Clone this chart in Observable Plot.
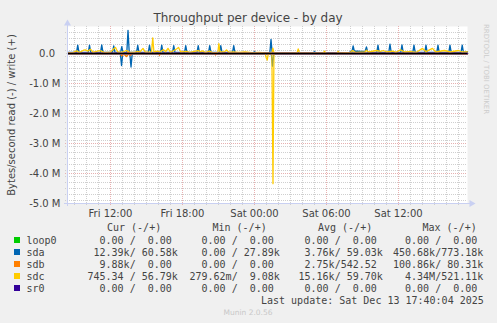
<!DOCTYPE html>
<html><head><meta charset="utf-8">
<script src="https://cdn.jsdelivr.net/npm/d3@7"></script>
<script src="https://cdn.jsdelivr.net/npm/@observablehq/plot@0.6"></script>
<style>
html,body{margin:0;padding:0;background:#F0F0F0;}
#chart{width:497px;height:323px;overflow:hidden;}
</style></head><body><div id="chart"></div>
<script>
// time in hours since Fri 12 Dec 2025 00:00, values in bytes/second
const titleText = "Throughput per device - by day";
const yLabelText = "Bytes/second read (-) / write (+)";
const yTicks = [0, -1e6, -2e6, -3e6, -4e6, -5e6];
const yTickLabels = ["0.0", "-1.0 M", "-2.0 M", "-3.0 M", "-4.0 M", "-5.0 M"];
const xTicks = [12, 18, 24, 30, 36];
const xTickLabels = ["Fri 12:00", "Fri 18:00", "Sat 00:00", "Sat 06:00", "Sat 12:00"];

const devices = ["loop0", "sda", "sdb", "sdc", "sr0"];
const colors = ["#00CC00", "#0066B3", "#FF8000", "#FFCC00", "#330099"];
const legendHeaders = ["Cur (-/+)", "Min (-/+)", "Avg (-/+)", "Max (-/+)"];
const curText = ["  0.00 /  0.00 ", " 12.39k/ 60.58k", "  9.88k/  0.00 ", "745.34 / 56.79k", "  0.00 /  0.00 "];
const minText = ["  0.00 /  0.00 ", "  0.00 / 27.89k", "  0.00 /  0.00 ", "279.62m/  9.08k", "  0.00 /  0.00 "];
const avgText = ["  0.00 /  0.00 ", "  3.76k/ 59.03k", "  2.75k/542.52 ", " 15.16k/ 59.70k", "  0.00 /  0.00 "];
const maxText = ["  0.00 /  0.00 ", "450.68k/773.18k", "100.86k/ 80.31k", "  4.34M/521.11k", "  0.00 /  0.00 "];
const lastUpdate = "Last update: Sat Dec 13 17:40:04 2025";
const muninText = "Munin 2.0.56";
const rrdText = "RRDTOOL / TOBI OETIKER";

const loop0Read = [[8.42, 0], [41.75, 0]];
const loop0Write = [[8.42, 0], [41.75, 0]];
const sr0Read = [[8.42, 0], [41.75, 0]];
const sr0Write = [[8.42, 0], [41.75, 0]];

const sdaWrite = [
  [8.42, 38e3], [9.17, 38e3], [9.27, 280e3], [9.37, 38e3], [10.15, 38e3], [10.25, 280e3], [10.35, 38e3],
  [11.17, 38e3], [11.27, 285e3], [11.37, 38e3], [12.17, 38e3], [12.27, 255e3], [12.37, 38e3],
  [12.84, 38e3], [12.94, 225e3], [13.04, 38e3], [13.36, 38e3], [13.46, 773e3], [13.56, 38e3],
  [14.17, 38e3], [14.27, 275e3], [14.37, 38e3], [15.15, 38e3], [15.25, 280e3], [15.35, 38e3],
  [16.17, 38e3], [16.27, 280e3], [16.37, 38e3], [17.17, 38e3], [17.27, 265e3], [17.37, 38e3],
  [18.17, 38e3], [18.27, 265e3], [18.37, 38e3], [19.21, 38e3], [19.31, 265e3], [19.41, 38e3],
  [20.17, 38e3], [20.27, 265e3], [20.37, 38e3], [21.09, 38e3], [21.19, 265e3], [21.29, 38e3],
  [22.17, 38e3], [22.27, 260e3], [22.37, 38e3], [23.9, 30e3], [24.0, 60e3], [24.1, 30e3],
  [25.28, 30e3], [25.375, 470e3], [25.47, 30e3], [28.9, 30e3], [29.0, 60e3], [29.1, 30e3],
  [31.9, 30e3], [32.05, 70e3], [32.12, 60e3], [32.22, 250e3], [32.32, 75e3], [32.6, 80e3], [32.9, 70e3], [33.2, 60e3],
  [33.33, 220e3], [33.43, 45e3], [34.19, 40e3], [34.29, 280e3], [34.39, 40e3], [35.19, 40e3], [35.29, 310e3], [35.39, 40e3],
  [36.19, 40e3], [36.29, 285e3], [36.39, 40e3], [37.19, 40e3], [37.29, 280e3], [37.39, 40e3],
  [38.19, 40e3], [38.29, 280e3], [38.39, 40e3], [39.19, 40e3], [39.29, 280e3], [39.39, 40e3],
  [40.19, 40e3], [40.29, 280e3], [40.39, 40e3], [41.21, 40e3], [41.31, 280e3], [41.41, 40e3], [41.75, 60e3]
];
const sdaRead = [
  [8.42, -3e3], [12.82, -3e3], [12.92, -400e3], [13.02, -3e3], [13.61, -3e3], [13.71, -450e3], [13.81, -3e3],
  [25.4, -3e3], [25.5, -420e3], [25.6, -3e3], [41.75, -12e3]
];
const sdbWrite = [[8.42, 0], [13.38, 0], [13.46, 80e3], [13.54, 0], [41.75, 0]];
const sdbRead = [
  [8.42, 0], [12.82, 0], [12.92, -80e3], [13.1, -20e3], [13.33, -100e3], [13.5, -20e3], [13.67, -60e3], [13.8, 0],
  [16.0, 0], [16.08, -60e3], [16.16, 0], [20.67, 0], [20.75, -50e3], [20.83, 0],
  [29.0, 0], [29.08, -30e3], [29.16, 0], [30.09, 0], [30.17, -30e3], [30.25, 0],
  [35.48, 0], [35.56, -30e3], [35.64, 0], [38.5, 0], [38.58, -30e3], [38.66, 0],
  [41.32, 0], [41.4, -30e3], [41.48, 0], [41.75, -10e3]
];
const sdcWrite = [
  [8.42, 30e3], [8.9, 35e3], [9.21, 90e3], [9.4, 30e3], [9.75, 110e3], [9.92, 120e3], [10.1, 80e3], [10.33, 140e3],
  [10.55, 40e3], [11.0, 90e3], [11.2, 85e3], [11.5, 30e3], [12.0, 45e3], [12.25, 150e3], [12.42, 200e3], [12.6, 50e3],
  [13.0, 45e3], [13.33, 100e3], [13.6, 40e3], [14.0, 40e3], [14.25, 70e3], [14.45, 50e3], [14.71, 170e3], [14.9, 45e3],
  [15.42, 50e3], [15.52, 520e3], [15.62, 50e3], [15.9, 80e3], [16.1, 50e3], [16.42, 130e3], [16.6, 60e3], [16.79, 170e3],
  [17.0, 40e3], [17.5, 150e3], [17.67, 200e3], [17.85, 50e3], [18.33, 70e3], [18.6, 40e3], [19.2, 90e3], [19.33, 100e3],
  [19.5, 60e3], [19.67, 90e3], [19.9, 30e3], [20.25, 80e3], [20.5, 30e3], [20.95, 40e3], [21.03, 330e3], [21.12, 50e3],
  [21.5, 60e3], [21.67, 120e3], [21.85, 40e3], [22.2, 50e3], [22.7, 40e3], [23.2, 50e3], [23.8, 30e3], [24.4, 40e3],
  [24.9, 20e3], [25.45, 20e3], [25.53, 180e3], [25.62, 20e3], [26.5, 20e3], [27.55, 20e3], [27.64, 150e3], [27.75, 20e3],
  [28.8, 20e3], [29.75, 20e3], [29.83, 80e3], [29.95, 15e3], [30.9, 20e3], [30.97, 70e3], [31.1, 20e3], [32.0, 40e3],
  [32.17, 100e3], [32.4, 40e3], [33.2, 50e3], [33.33, 110e3], [33.5, 50e3], [34.17, 100e3], [34.5, 70e3], [34.75, 100e3],
  [35.0, 50e3], [35.5, 80e3], [35.8, 40e3], [36.17, 120e3], [36.5, 50e3], [37.0, 60e3], [37.5, 40e3], [38.0, 170e3],
  [38.3, 60e3], [38.83, 170e3], [39.1, 50e3], [39.83, 100e3], [40.3, 50e3], [41.0, 100e3], [41.3, 50e3], [41.75, 57e3]
];
const sdcRead = [
  [8.42, -2e3], [24.9, -2e3], [24.98, -150e3], [25.06, -220e3], [25.14, -30e3], [25.45, -2e3],
  [25.54, -4.34e6], [25.62, -2e3], [41.75, -1e3]
];

const base = new Date(2025, 11, 12, 0, 0, 0).getTime();
const toDate = h => new Date(base + h * 3600e3);
const t0 = toDate(8 + 25 / 60), t1 = toDate(41 + 45 / 60);

const series = [
  [loop0Read, loop0Write], [sdaRead, sdaWrite], [sdbRead, sdbWrite], [sdcRead, sdcWrite], [sr0Read, sr0Write]
];

const hourGrid = d3.range(9, 42).filter(h => h % 6 !== 0);
const hourMajor = d3.range(12, 42, 6);
const yMinor = d3.range(-49, 9, 2).map(v => v * 1e5).filter(v => Math.round(v / 1e5) % 10 !== 0);
const yMajor = [-1e6, -2e6, -3e6, -4e6];

const gridColor = "#CFCFCF";
const mgridColor = "#E8B0B0";
const axisColor = "#C9D0F2";
const textColor = "#444";

const lineMarks = [];
series.forEach((pair, i) => {
  pair.forEach(arr => {
    lineMarks.push(Plot.line(arr, {x: d => toDate(d[0]), y: d => d[1], stroke: colors[i], strokeWidth: 1.3}));
  });
});

const chart = Plot.plot({
  width: 497, height: 323,
  marginLeft: 67, marginRight: 30, marginTop: 26, marginBottom: 120,
  style: {background: "transparent", fontFamily: "DejaVu Sans", overflow: "visible"},
  x: {type: "time", domain: [t0, t1], axis: null},
  y: {domain: [-5e6, 0.9e6], axis: null},
  marks: [
    Plot.frame({fill: "white", stroke: null}),
    Plot.ruleY(yMinor, {stroke: gridColor, strokeDasharray: "1,1", insetLeft: -2, insetRight: 0}),
    Plot.ruleX(hourGrid.map(toDate), {stroke: gridColor, strokeDasharray: "1,1", insetBottom: -2}),
    Plot.ruleY(yMajor, {stroke: mgridColor, strokeDasharray: "1,1", insetLeft: -2}),
    Plot.ruleX(hourMajor.map(toDate), {stroke: mgridColor, strokeDasharray: "1,1", insetBottom: -2}),
    ...lineMarks,
    Plot.ruleY([0], {stroke: "#000", strokeWidth: 1}),
    Plot.ruleX([t0], {stroke: axisColor, insetTop: -3, insetBottom: -3}),
    Plot.ruleY([-5e6], {stroke: axisColor, insetLeft: -3, insetRight: -3}),
    Plot.dot([0], {x: () => t0, y: () => 0.9e6, symbol: "triangle", r: 2.6, fill: axisColor, stroke: null, dy: -3}),
    Plot.dot([0], {x: () => t1, y: () => -5e6, symbol: "triangle", r: 2.6, fill: axisColor, stroke: null, rotate: 90, dx: 4}),
    Plot.text(yTicks.slice(1), {x: () => t0, y: d => d, text: (d, i) => yTickLabels[i + 1], textAnchor: "end", dx: -7, fontSize: 10, fill: textColor}),
    Plot.text(yTicks.slice(0, 1), {x: () => t0, y: d => d, text: (d, i) => yTickLabels[i], textAnchor: "end", dx: -12.5, fontSize: 10, fill: textColor}),
    Plot.text(xTicks, {x: d => toDate(d), y: () => -5e6, text: (d, i) => xTickLabels[i], lineAnchor: "bottom", dy: 13, fontSize: 10, fill: textColor})
  ]
});
document.getElementById("chart").appendChild(chart);

const nb = s => s.replace(/ /g, "\u00A0");
const svg = d3.select(chart);
const addText = (x, y, str, font, fill, anchor) =>
  svg.append("text").attr("x", x).attr("y", y).attr("text-anchor", anchor || "start")
    .style("font", font).attr("fill", fill).text(str);

addText(248, 22, titleText, "12px 'DejaVu Sans'", textColor, "middle");
svg.append("text").attr("transform", "translate(14.5,115) rotate(-90)").attr("text-anchor", "middle")
  .style("font", "10px 'DejaVu Sans'").attr("fill", textColor).text(yLabelText);
svg.append("text").attr("transform", "translate(484,24) rotate(90)").attr("text-anchor", "start")
  .style("font", "7px 'DejaVu Sans'").attr("fill", "#CCCCCC").text(rrdText);

const mono = "10px 'DejaVu Sans Mono'";
const headerX = [107, 212.5, 318, 422.5];
legendHeaders.forEach((h, i) => addText(headerX[i], 230.5, nb(h), mono, textColor));
const colX = [87.5, 189.5, 292.5, 393];
const cols = [curText, minText, avgText, maxText];
devices.forEach((d, r) => {
  const yb = 243.5 + r * 12;
  svg.append("rect").attr("x", 14).attr("y", yb - 6.5).attr("width", 6).attr("height", 6).attr("fill", colors[r]);
  addText(26.5, yb, d, mono, textColor);
  cols.forEach((c, j) => addText(colX[j], yb, nb(c[r]), mono, textColor));
});
addText(261, 303.5, nb(lastUpdate), mono, textColor);
addText(248, 315, muninText, "7.5px 'DejaVu Sans'", "#C8C8C8", "middle");
</script></body></html>
